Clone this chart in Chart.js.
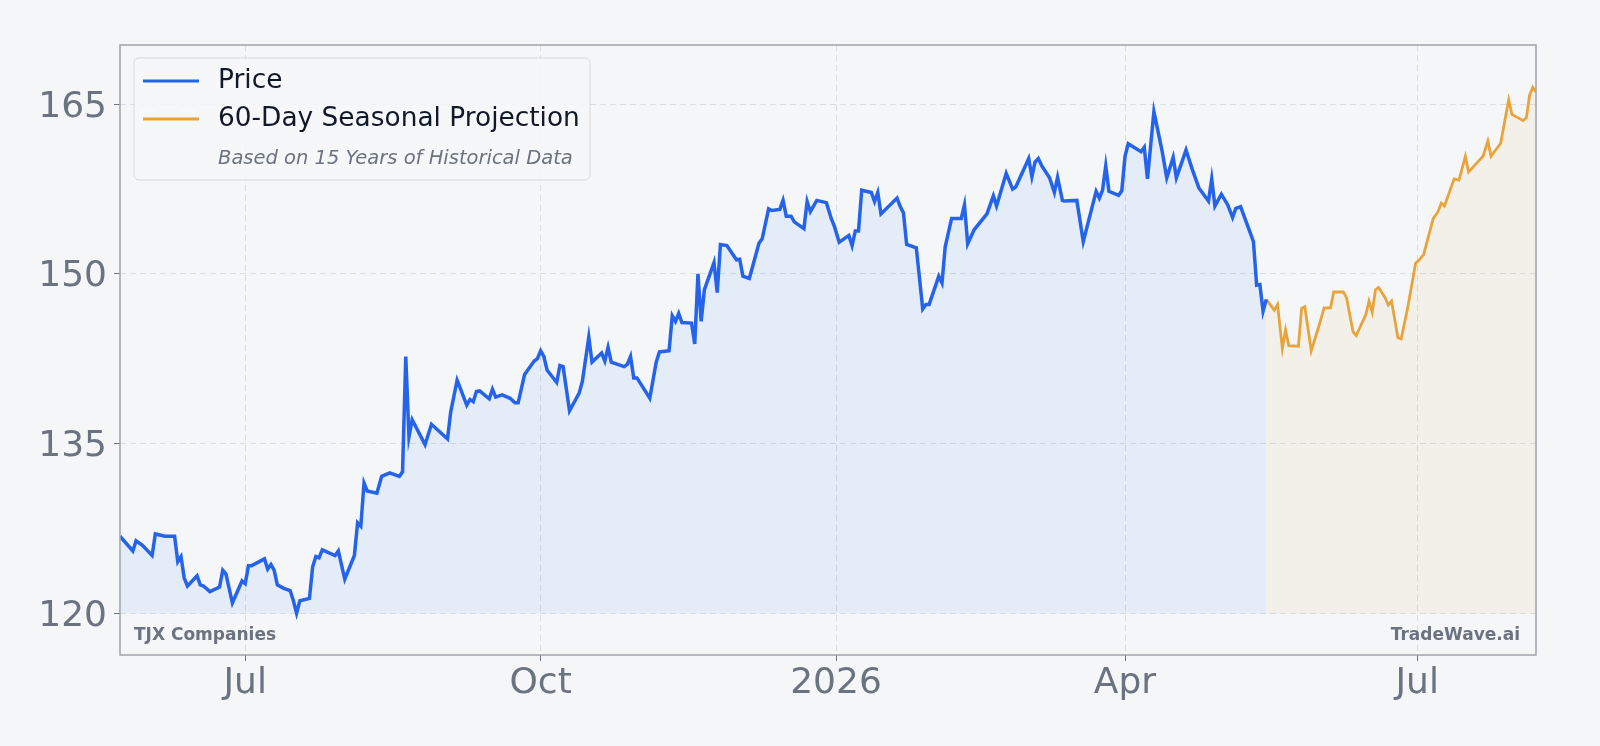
<!DOCTYPE html>
<html>
<head>
<meta charset="utf-8">
<title>TJX Companies - Price and Seasonal Projection</title>
<script src="https://cdn.jsdelivr.net/npm/chart.js@4.4.1/dist/chart.umd.min.js"></script>
<style>
    html, body { margin: 0; padding: 0; background: #f5f6f8; }
    #wrap { width: 1600px; height: 746px; position: relative; }
</style>
</head>
<body>
<div id="wrap"><canvas id="seasonalChart"></canvas></div>
<script>
// x values are days counted from 1 Jul 2025
const priceDays = [
    -39, -35, -34, -32, -29, -28, -25, -22, -21, -20,
    -19, -18, -15, -14, -13, -11, -8, -7, -6, -4,
    -1, 0, 1, 2, 6, 7, 8, 9, 10, 12,
    14, 15, 16, 17, 20, 21, 22, 23, 24, 28,
    29, 31, 34, 35, 36, 37, 38, 41, 42.5, 45,
    48, 49, 50, 51, 52, 56, 58, 63, 64, 66,
    69, 70, 71, 72, 73, 76, 77, 78, 80, 82.5,
    84, 85, 87, 90, 91, 92, 93, 94, 97, 98,
    99, 101, 104, 105, 107, 108, 111, 112, 113, 114,
    116, 118, 119, 120, 121, 122, 126, 128, 129, 132,
    133, 134, 135, 136, 139, 140, 141, 142, 143, 146,
    147, 148, 150, 153, 154, 155, 157, 160, 161, 163,
    164, 166.5, 167.5, 168.5, 170, 171, 174, 175, 176, 178,
    181, 182.5, 183.5, 185, 188, 189, 190, 191, 192, 195,
    196, 197, 198, 203, 204, 205, 206, 209, 211, 212,
    213, 216, 217, 218, 220, 223, 224, 225, 227, 231,
    233, 234, 237, 239, 240, 244, 245, 246, 247, 248,
    250.5, 252, 253, 254.5, 255, 259, 261, 265, 266, 267,
    268, 269, 272, 273, 274, 275, 279, 280, 281, 283,
    285.5, 287, 289, 290, 293, 295, 297, 300, 301, 302,
    304, 306, 307.5, 308.5, 310, 312, 314, 315, 316, 317,
    318
];
const priceValues = [
    126.8, 125.5, 126.4, 126.0, 125.1, 127.0, 126.8, 126.8, 124.55, 125.0,
    123.1, 122.4, 123.3, 122.5, 122.4, 121.9, 122.3, 123.8, 123.45, 120.9,
    122.85, 122.6, 124.2, 124.2, 124.8, 123.9, 124.3, 123.8, 122.5, 122.2,
    122.0, 121.1, 120.0, 121.1, 121.3, 124.1, 125.0, 124.9, 125.6, 125.1,
    125.5, 123.0, 125.1, 128.0, 127.7, 131.5, 130.8, 130.6, 132.1, 132.4,
    132.1, 132.5, 142.7, 135.6, 137.1, 134.9, 136.7, 135.4, 137.8, 140.6,
    138.4, 138.9, 138.7, 139.6, 139.65, 138.95, 139.8, 139.1, 139.3, 139.0,
    138.6, 138.6, 141.1, 142.3, 142.5, 143.2, 142.7, 141.5, 140.4, 141.9,
    141.8, 137.9, 139.45, 140.5, 144.4, 142.2, 143.0, 142.3, 143.5, 142.2,
    142.0, 141.8, 142.0, 142.7, 140.8, 140.8, 139.0, 142.2, 143.1, 143.2,
    146.3, 145.8, 146.5, 145.7, 145.65, 143.8, 150.0, 145.8, 148.6, 151.0,
    148.35, 152.6, 152.5, 151.25, 151.3, 149.8, 149.6, 152.7, 153.1, 155.75,
    155.6, 155.7, 156.5, 155.1, 155.1, 154.6, 154.0, 156.4, 155.5, 156.5,
    156.3, 154.9, 154.2, 152.8, 153.4, 152.5, 153.8, 153.8, 157.4, 157.2,
    156.4, 157.2, 155.3, 156.7, 155.95, 155.4, 152.6, 152.3, 146.9, 147.3,
    147.3, 149.8, 149.2, 152.4, 154.9, 154.9, 156.1, 152.65, 153.9, 155.3,
    156.9, 156.0, 158.9, 157.5, 157.7, 160.2, 158.6, 159.9, 160.2, 159.6,
    158.5, 157.2, 158.55, 156.5, 156.45, 156.5, 152.85, 157.3, 156.7, 157.4,
    159.55, 157.3, 156.95, 157.35, 160.4, 161.5, 160.8, 161.2, 158.4, 164.35,
    160.95, 158.5, 160.3, 158.5, 160.95, 159.2, 157.6, 156.45, 158.4, 156.0,
    157.05, 156.1, 155.0, 155.8, 155.95, 154.4, 152.85, 149.0, 149.05, 146.7,
    147.75
];

const projDays = [
    318, 320.5, 321.5, 323, 324, 325, 328, 329, 330, 332,
    334.5, 336, 338, 339, 342, 343, 345, 346, 349, 350,
    351, 352, 353, 355, 356, 357, 359, 360, 362, 364.5,
    365.5, 367, 370, 371.5, 372.5, 373.5, 376.5, 378, 380, 381,
    384.5, 385.5, 387, 388, 391, 393.5, 394.5, 398, 399, 400,
    401, 402
];
const projValues = [
    147.75, 146.8, 147.3, 143.4, 145.05, 143.65, 143.6, 146.95, 147.1, 143.2,
    145.5, 147.0, 147.0, 148.4, 148.4, 147.9, 144.9, 144.55, 146.4, 147.6,
    146.6, 148.6, 148.8, 147.9, 147.25, 147.6, 144.35, 144.25, 146.95, 150.95,
    151.2, 151.7, 154.9, 155.5, 156.25, 156.0, 158.4, 158.3, 160.4, 159.0,
    160.1, 160.4, 161.75, 160.4, 161.55, 165.4, 164.1, 163.55, 163.8, 165.8,
    166.5, 166.1
];

// axis ticks
const xTickDays = [0, 92, 184, 274, 365];
const xTickLabels = ['Jul', 'Oct', '2026', 'Apr', 'Jul'];
const yTicks = [120, 135, 150, 165];

const FONT = "'DejaVu Sans', 'Liberation Sans', sans-serif";
const GREY = '#6b7280';

document.addEventListener('DOMContentLoaded', function() {
    initSeasonalChart();
});

function toPoints(xs, ys) {
    return xs.map((x, i) => ({ x: x, y: ys[i] }));
}

// frame, legend box and corner labels
const overlayPlugin = {
    id: 'overlay',
    afterDraw(chart) {
        const ctx = chart.ctx;
        const area = chart.chartArea;
        ctx.save();

        // plot frame
        ctx.strokeStyle = '#9ea3ab';
        ctx.lineWidth = 1.5;
        ctx.strokeRect(area.left, area.top, area.right - area.left, area.bottom - area.top);

        // legend box
        const lx = area.left + 14, ly = area.top + 13;
        ctx.beginPath();
        ctx.roundRect(lx, ly, 456, 122, 5);
        ctx.fillStyle = 'rgba(246, 247, 249, 0.85)';
        ctx.fill();
        ctx.strokeStyle = '#d5d8dd';
        ctx.lineWidth = 1;
        ctx.stroke();

        ctx.lineWidth = 3;
        ctx.strokeStyle = '#2563eb';
        ctx.beginPath();
        ctx.moveTo(lx + 9, ly + 23);
        ctx.lineTo(lx + 65, ly + 23);
        ctx.stroke();
        ctx.strokeStyle = '#e8a43a';
        ctx.beginPath();
        ctx.moveTo(lx + 9, ly + 61);
        ctx.lineTo(lx + 65, ly + 61);
        ctx.stroke();

        ctx.textBaseline = 'middle';
        ctx.textAlign = 'left';
        ctx.fillStyle = '#111827';
        ctx.font = '26.4px ' + FONT;
        ctx.fillText('Price', lx + 84, ly + 23);
        ctx.fillText('60-Day Seasonal Projection', lx + 84, ly + 61);
        ctx.fillStyle = GREY;
        ctx.font = 'italic 19.5px ' + FONT;
        ctx.fillText('Based on 15 Years of Historical Data', lx + 84, ly + 101);

        // corner labels
        ctx.font = 'bold 17px ' + FONT;
        ctx.fillStyle = GREY;
        ctx.fillText('TJX Companies', area.left + 14, area.bottom - 19);
        ctx.textAlign = 'right';
        ctx.fillText('TradeWave.ai', area.right - 16, area.bottom - 19);
        ctx.restore();
    }
};

function initSeasonalChart() {
    const ctx = document.getElementById('seasonalChart');
    if (!ctx) return;

    new Chart(ctx, {
        type: 'line',
        data: {
            datasets: [{
                label: 'Price',
                data: toPoints(priceDays, priceValues),
                borderColor: '#2563eb',
                borderWidth: 3.5,
                backgroundColor: 'rgba(96, 165, 250, 0.12)',
                fill: { value: 120 },
                pointRadius: 0,
                tension: 0
            }, {
                label: '60-Day Seasonal Projection',
                data: toPoints(projDays, projValues),
                borderColor: '#e8a43a',
                borderWidth: 2.8,
                backgroundColor: 'rgba(232, 164, 58, 0.08)',
                fill: { value: 120 },
                pointRadius: 0,
                tension: 0
            }]
        },
        options: {
            responsive: true,
            maintainAspectRatio: false,
            animation: false,
            layout: { padding: { left: 0, right: 64, top: 45, bottom: 0 } },
            plugins: {
                legend: { display: false },
                tooltip: { enabled: false }
            },
            scales: {
                x: {
                    type: 'linear',
                    min: -39,
                    max: 402,
                    afterBuildTicks: scale => {
                        scale.ticks = xTickDays.map(v => ({ value: v }));
                    },
                    afterFit: scale => { scale.height = 91; },
                    ticks: {
                        autoSkip: false,
                        maxRotation: 0,
                        padding: 1,
                        color: GREY,
                        font: { family: FONT, size: 36 },
                        callback: value => xTickLabels[xTickDays.indexOf(value)]
                    },
                    grid: {
                        color: '#d9dce1',
                        lineWidth: 1,
                        tickLength: 6,
                        tickColor: '#6b7280'
                    },
                    border: { display: false, dash: [6, 4] }
                },
                y: {
                    min: 116.3,
                    max: 170.24,
                    afterBuildTicks: scale => {
                        scale.ticks = yTicks.map(v => ({ value: v }));
                    },
                    afterFit: scale => { scale.width = 120; },
                    ticks: {
                        padding: 7,
                        labelOffset: 3,
                        color: GREY,
                        font: { family: FONT, size: 36 }
                    },
                    grid: {
                        color: '#d9dce1',
                        lineWidth: 1,
                        tickLength: 6,
                        tickColor: '#6b7280'
                    },
                    border: { display: false, dash: [6, 4] }
                }
            }
        },
        plugins: [overlayPlugin]
    });
}
</script>
</body>
</html>
